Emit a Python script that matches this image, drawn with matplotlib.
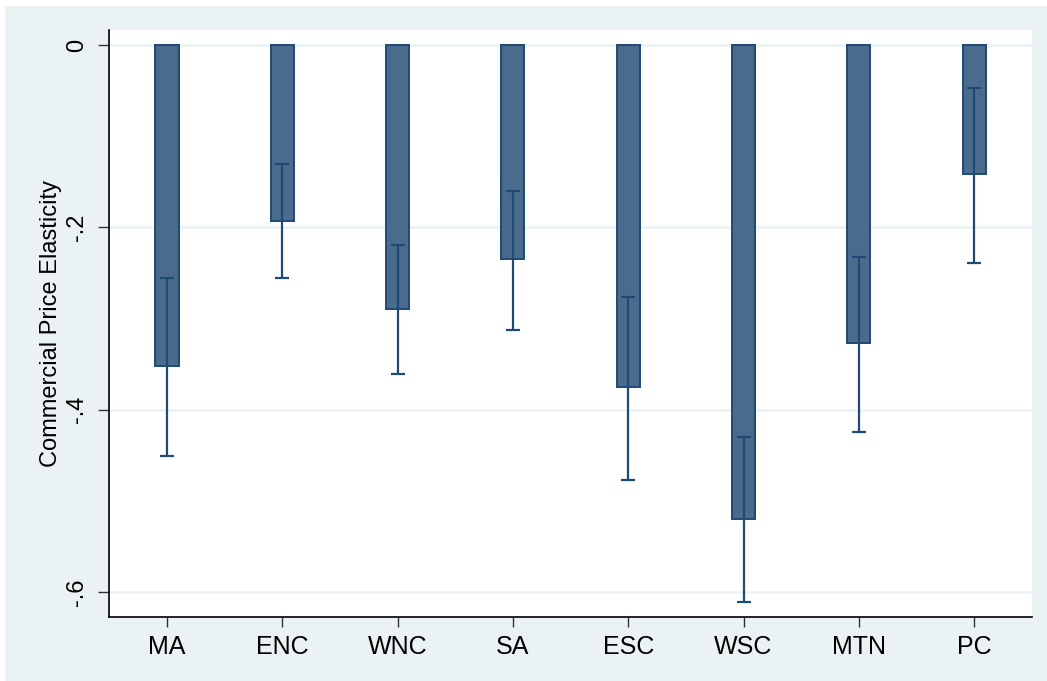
import matplotlib
matplotlib.use("Agg")
import matplotlib.pyplot as plt
from matplotlib.patches import Rectangle
import numpy as np

# Census divisions and estimated commercial price elasticities with CI bounds
regions = ["MA", "ENC", "WNC", "SA", "ESC", "WSC", "MTN", "PC"]
elasticity = [-0.352, -0.193, -0.289, -0.235, -0.375, -0.520, -0.327, -0.142]
ci_upper = [-0.255, -0.130, -0.219, -0.160, -0.276, -0.430, -0.233, -0.047]
ci_lower = [-0.451, -0.256, -0.361, -0.313, -0.477, -0.611, -0.424, -0.239]
yticks = [0, -0.2, -0.4, -0.6]
ytick_labels = ["0", "-.2", "-.4", "-.6"]

BG = "#EAF2F3"
BAR_FILL = "#4A6B8C"
BAR_EDGE = "#1F4A73"

W, H = 1047, 681
fig = plt.figure(figsize=(W / 100, H / 100), dpi=100, facecolor="white")
fig.patches.append(Rectangle((5 / W, 0), 1 - 5 / W, 1 - 6 / H, transform=fig.transFigure,
                             facecolor=BG, edgecolor="none", zorder=-10))

ax = fig.add_axes([109 / W, 1 - 617 / H, (1032 - 109) / W, (617 - 30) / H])
ax.set_facecolor("white")

x = np.arange(len(regions))
ax.bar(x, elasticity, width=0.2, color=BAR_FILL, edgecolor=BAR_EDGE, linewidth=1.4, zorder=3)

lower_err = np.array(elasticity) - np.array(ci_lower)
upper_err = np.array(ci_upper) - np.array(elasticity)
ax.errorbar(x, elasticity, yerr=[lower_err, upper_err], fmt="none", ecolor=BAR_EDGE,
            elinewidth=1.6, capsize=5, capthick=1.6, zorder=4)

ax.set_xlim(-0.503, 7.502)
ax.set_ylim(-0.6274, 0.0165)

for yv in yticks:
    ax.axhline(yv, color=BG, linewidth=1.8, zorder=1)

ax.set_yticks(yticks)
ax.set_yticklabels(ytick_labels, rotation=90, va="center", fontsize=17, family="Liberation Sans")
ax.set_xticks(x)
ax.set_xticklabels(regions, fontsize=18, family="Liberation Sans")
ax.tick_params(axis="y", length=8, width=1.0, pad=7, color="#333333")
ax.tick_params(axis="x", length=7, width=1.0, pad=6, color="#333333")

ax.set_ylabel("Commercial Price Elasticity", fontsize=17, family="Liberation Sans")
ax.yaxis.set_label_coords(-0.051, 0.5)

for side in ["top", "right"]:
    ax.spines[side].set_visible(False)
for side in ["left", "bottom"]:
    ax.spines[side].set_linewidth(1.2)
    ax.spines[side].set_color("black")

fig.savefig("out.png", dpi=100, facecolor=fig.get_facecolor())
